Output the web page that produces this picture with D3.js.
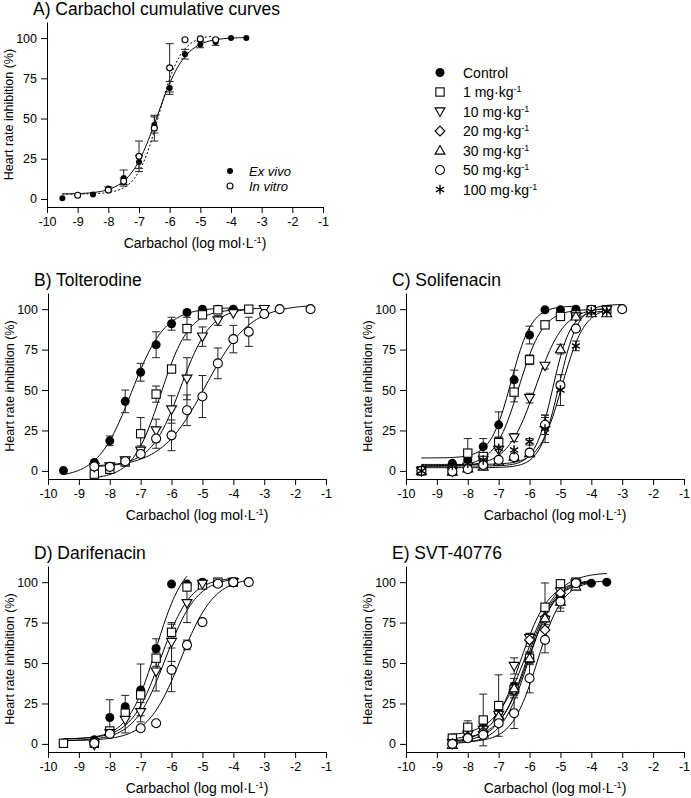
<!DOCTYPE html>
<html lang="en">
<head>
<meta charset="UTF-8" />
<title>Carbachol heart rate inhibition</title>
<script src="https://d3js.org/d3.v7.min.js"></script>
<style>
  body { margin: 0; background: #fff; }
  svg { display: block; font-family: "Liberation Sans", Arial, sans-serif; }
  .axis path, .axis line { stroke: #000; stroke-width: 1px; }
  .axis text { font-size: 12.5px; fill: #000; font-family: "Liberation Sans", Arial, sans-serif; }
  .title { font-size: 17.5px; }
  .xlab { font-size: 14px; }
  .ylab { font-size: 12.5px; }
  .leg { font-size: 14px; }
  .fit { fill: none; stroke: #000; stroke-width: 1px; }
  .err { stroke: #222; stroke-width: 1px; }
</style>
</head>
<body>
<svg width="691" height="798"></svg>
<script>
// x values: log mol/L carbachol; each point [logC, mean %, sem]
const xTicks = [-10, -9, -8, -7, -6, -5, -4, -3, -2, -1];
const yTicks = [0, 25, 50, 75, 100];

const doseLabels = ["Control", "1 mg·kg", "10 mg·kg", "20 mg·kg", "30 mg·kg", "50 mg·kg", "100 mg·kg"];
const doseMarks  = ["dot", "square", "tdown", "diamond", "tup", "circle", "star"];

// A) carbachol alone
const aExVivo = [[-9.5,0.5,0],[-8.5,2.8,0],[-8,6.5,1],[-7.5,13,5],[-7,23,4],[-6.5,46,5],[-6,69,4],[-5.5,90,3],[-5,96,2],[-4.5,97.5,2],[-4,100,0],[-3.5,100,0]];
const aInVitro = [[-9,2.3,0],[-8,5.5,0],[-7.5,11,2],[-7,26.5,9.5],[-6.5,44,8],[-6,81.5,15],[-5.5,99,0],[-5,99.5,0],[-4.5,99,0]];
// fit params: [bottom, top, logEC50, hill, from, to]
const aFits = [[3,100.5,-6.4,0.95,-9.5,-3.5],[3,102,-6.35,1.2,-9.5,-4.6]];

// B) tolterodine
const tolCtrl = [[-9.5,0.2,0],[-8.5,5.2,0],[-8,18.6,3],[-7.5,43,7],[-7,61,5.5],[-6.5,78,8],[-6,91,4],[-5.5,98,0],[-5,100,0],[-4.5,100,0],[-4,100,0]];
const tol1 = [[-8.5,-2,0],[-8,1,0],[-7.5,5.5,1.5],[-7,23,10],[-6.5,47.5,5],[-6,63,2],[-5.5,88,7],[-5,96.5,0],[-4.5,99.6,0],[-3.5,100,0]];
const tol10 = [[-8.5,2.5,0],[-8,2.8,0],[-7.5,6.5,0],[-7,12.5,3],[-6.5,25,7],[-6,38,8.5],[-5.5,57,13],[-5,83,6],[-4.5,93,3],[-4,97.5,0],[-3,100,0]];
const tol50 = [[-8.5,2.7,0],[-8,2.5,0],[-7.5,6,0],[-7,10.5,2],[-6.5,20,6],[-6,22,9.5],[-5.5,37.5,9.5],[-5,46,13],[-4.5,66.5,9.5],[-4,81.5,8.5],[-3.5,86,9],[-3,97,0],[-2.5,100,0],[-1.5,100,0]];
const tolFits = [[-4,101,-7.3,0.8,-9.5,-4],[-5,100,-6.35,0.95,-8.5,-3.5],[3,101,-5.7,0.9,-8.5,-3],[2,103,-4.9,0.6,-8.5,-1.5]];

// C) solifenacin
const solCtrl = [[-9.5,0,0],[-8.5,4.7,0],[-8,6.8,0],[-7.5,15,5],[-7,28.5,8],[-6.5,56.3,6],[-6,84,5.5],[-5.5,99.6,0],[-5,99.6,0],[-4.5,100,0]];
const sol1 = [[-9.5,0,0],[-8.5,1,0],[-8,11,9],[-7.5,8.9,0],[-7,17.5,3.5],[-6.5,48.7,6],[-6,68.7,3],[-5.5,90.3,0],[-5,95.5,0],[-4.5,96.5,0],[-4,99.6,0],[-3.5,99.6,0]];
const sol10 = [[-9.5,0,0],[-8.5,-0.4,0],[-8,2.7,0],[-7.5,6.8,0],[-7,13,0],[-6.5,20.6,2.5],[-6,45,3],[-5.5,65,2],[-4.5,95.5,0],[-3.5,99.6,0]];
const sol30 = [[-9.5,0,0],[-8.5,-0.4,0],[-8,1.6,0],[-7.5,2.7,2],[-7,5.8,0],[-6.5,8.9,0],[-6,11,2],[-5.5,29.5,3.5],[-5,75.3,3],[-4.5,95.5,0],[-4,97.5,0],[-3.5,97.5,0]];
const sol50 = [[-9.5,0,0],[-8.5,-0.4,0],[-8,1,0],[-7.5,3.7,0],[-7,6.8,0],[-6.5,8.5,0],[-6,11.3,0],[-5.5,28.5,6],[-5,53,0],[-4.5,88,0],[-4,99.6,0],[-3,100,0]];
const sol100 = [[-9.5,0,0],[-8.5,3.7,0],[-8,4.7,0],[-7.5,6.8,0],[-7,14,0],[-6.5,13,0],[-6,18,2],[-5.5,26,8.5],[-5,50,9.5],[-4.5,77.3,3],[-4,98.6,0],[-3.5,98.6,0]];
const solFits = [[8,102,-6.6,1.3,-9.5,-4.5],[3,100,-6.35,1.1,-9.5,-3.5],[3,101,-5.8,0.95,-9.5,-3.5],[3,99,-5.25,1.5,-9.5,-3.5],[2,103,-5.05,1.4,-9.5,-3],[4,101,-4.95,1.2,-9.5,-3.5]];

// D) darifenacin
const darCtrl = [[-9.5,0.4,0],[-8.5,2.5,0],[-8,16.3,11],[-7.5,23,7],[-7,33.4,16],[-6.5,59,6],[-6,98.8,0],[-5.5,98.8,0],[-5,100,0]];
const dar1 = [[-9.5,0.4,0],[-8.5,0.4,0],[-8,8,0],[-7.5,19,0],[-7,30.3,0],[-6.5,53,5],[-6,69,5],[-5.5,97,0],[-5,98.3,0],[-4.5,100,0],[-4,100,0]];
const dar10 = [[-8.5,-0.6,0],[-8,6.6,0],[-7.5,14.8,8],[-7,19.6,6],[-6.5,44.7,12],[-6,63,12],[-5.5,87,12],[-5,99,0],[-4,100,0]];
const dar50 = [[-8.5,0.4,0],[-8,6.2,0],[-7,9.7,0],[-6.5,12.8,0],[-6,45.8,13.5],[-5.5,61.2,3],[-5,75.3,0],[-4.5,99,0],[-4,100,0],[-3.5,100,0]];
const darFits = [[3,115,-6.5,0.95,-9.5,-5.5],[3,103,-6.35,0.9,-9.5,-4],[2,103,-6.2,0.85,-9.5,-4],[2,103,-5.7,0.8,-9.5,-3.5]];

// E) SVT-40776
const svtCtrl = [[-8.5,3.5,2.5],[-8,7,3],[-7.5,10.3,0],[-7,19.4,3],[-6.5,35.5,5],[-6,53.6,3],[-5.5,77.7,4],[-5,91,3],[-4.5,100,0],[-4,99.4,0],[-3.5,100,0]];
const svt1 = [[-8.5,3.5,2],[-8,10.3,4],[-7.5,14.8,16],[-7,23.7,19],[-6.5,33.8,4],[-6,53,4],[-5.5,84.5,15],[-5,99,0],[-4.5,100,0]];
const svt10 = [[-8.5,0.4,0],[-8,5.6,0],[-7.5,8.7,0],[-7,18,0],[-6.5,48.2,5],[-6,65.4,3],[-5.5,76.7,0],[-5,94.2,0],[-4.5,99,0]];
const svt20 = [[-8.5,0,0],[-8,4.5,0],[-7.5,7.5,0],[-7,15.9,0],[-6.5,33.4,0],[-6,64.3,4],[-5.5,70.5,0],[-5,93.2,0],[-4.5,99,0]];
const svt30 = [[-8.5,-0.6,0],[-8,4.5,0],[-7.5,6.6,0],[-7,17,0],[-6.5,34.4,0],[-6,53,0],[-5.5,77.7,0],[-5,88,6],[-4.5,97.3,0]];
const svt50 = [[-8.5,0,0],[-8,3.5,0],[-7.5,5.6,0],[-7,12.8,0],[-6.5,19,9.5],[-6,40.6,9],[-5.5,64.3,8],[-5,88,4],[-4.5,99.4,0]];
const svtFits = [[3,101,-6.05,0.95,-8.5,-3.5],[5,106,-6.1,0.85,-8.5,-3.5],[1,101,-6.3,0.95,-8.5,-4],[1,102,-6.1,0.95,-8.5,-4],[0,101,-6.05,1,-8.5,-4],[1,101,-5.75,1.05,-8.5,-4]];

const svg = d3.select("svg");

const panels = [
  {title: "A) Carbachol cumulative curves", box: [47, 323, 207, 22], r: 3,
   series: [aExVivo, aInVitro], marks: ["dot", "circle"], fits: aFits, dash: [null, "2,2"]},
  {title: "B) Tolterodine", box: [48, 326, 479, 293], r: 4.5,
   series: [tolCtrl, tol1, tol10, tol50], marks: ["dot", "square", "tdown", "circle"], fits: tolFits},
  {title: "C) Solifenacin", box: [406, 684, 479, 293], r: 4.5,
   series: [solCtrl, sol1, sol10, sol30, sol50, sol100], marks: ["dot", "square", "tdown", "tup", "circle", "star"], fits: solFits},
  {title: "D) Darifenacin", box: [48, 326, 752, 566], r: 4.5,
   series: [darCtrl, dar1, dar10, dar50], marks: ["dot", "square", "tdown", "circle"], fits: darFits},
  {title: "E) SVT-40776", box: [406, 684, 752, 566], r: 4.5,
   series: [svtCtrl, svt1, svt10, svt20, svt30, svt50], marks: ["dot", "square", "tdown", "diamond", "tup", "circle"], fits: svtFits}
];

function marker(g, type, r) {
  const s = "#000";
  if (type === "dot") g.append("circle").attr("r", r).attr("fill", s);
  else if (type === "circle") g.append("circle").attr("r", r).attr("fill", "#fff").attr("stroke", s).attr("stroke-width", 1.1);
  else if (type === "square") g.append("rect").attr("x", -r * 0.92).attr("y", -r * 0.92).attr("width", r * 1.84).attr("height", r * 1.84)
    .attr("fill", "#fff").attr("stroke", s).attr("stroke-width", 1.1);
  else if (type === "tdown") g.append("path").attr("d", `M${-r * 1.1},${-r * 0.8}L${r * 1.1},${-r * 0.8}L0,${r * 1.1}Z`)
    .attr("fill", "#fff").attr("stroke", s).attr("stroke-width", 1.1);
  else if (type === "tup") g.append("path").attr("d", `M${-r * 1.1},${r * 0.8}L${r * 1.1},${r * 0.8}L0,${-r * 1.1}Z`)
    .attr("fill", "#fff").attr("stroke", s).attr("stroke-width", 1.1);
  else if (type === "diamond") g.append("path").attr("d", `M0,${-r * 1.1}L${r * 1.1},0L0,${r * 1.1}L${-r * 1.1},0Z`)
    .attr("fill", "#fff").attr("stroke", s).attr("stroke-width", 1.1);
  else if (type === "star") {
    const a = r * 1.05, c = Math.cos(Math.PI / 6) * a, sn = Math.sin(Math.PI / 6) * a;
    g.append("path").attr("d", `M0,${-a}V${a}M${-c},${-sn}L${c},${sn}M${-c},${sn}L${c},${-sn}`)
      .attr("stroke", s).attr("stroke-width", 1.4).attr("fill", "none");
  }
}

const hill = (p, v) => p[0] + (p[1] - p[0]) / (1 + Math.pow(10, (p[2] - v) * p[3]));

panels.forEach(p => {
  const [l, rgt, b, t] = p.box;
  const x = d3.scaleLinear().domain([-10, -1]).range([l, rgt]);
  const y = d3.scaleLinear().domain([-5, 110]).range([b, t]);
  const g = svg.append("g");

  g.append("text").attr("class", "title").attr("x", l - 14).attr("y", t - 7).text(p.title);

  g.append("g").attr("class", "axis").attr("transform", `translate(0,${b})`)
    .call(d3.axisBottom(x).tickValues(xTicks).tickFormat(d3.format("d")).tickSize(6).tickSizeOuter(0).tickPadding(4))
    .call(a => a.selectAll("text").text(d => d < 0 ? "-" + Math.abs(d) : d));
  g.append("g").attr("class", "axis").attr("transform", `translate(${l},0)`)
    .call(d3.axisLeft(y).tickValues(yTicks).tickSize(6).tickSizeOuter(0).tickPadding(4));

  const xl = g.append("text").attr("class", "xlab").attr("text-anchor", "middle")
    .attr("x", (l + rgt) / 2 + 10).attr("y", b + 41);
  xl.append("tspan").text("Carbachol (log mol·L");
  xl.append("tspan").attr("dy", -5).attr("font-size", "9px").text("-1");
  xl.append("tspan").attr("dy", 5).text(")");

  g.append("text").attr("class", "ylab").attr("text-anchor", "middle")
    .attr("transform", `translate(${l - 34},${(b + t) / 2}) rotate(-90)`)
    .text("Heart rate inhibition (%)");

  const line = d3.line().x(d => x(d[0])).y(d => y(d[1]));
  p.fits.forEach((f, i) => {
    const xs = d3.range(f[4], f[5] + 1e-6, 0.05);
    g.append("path").attr("class", "fit")
      .attr("stroke-dasharray", p.dash ? p.dash[i] : null)
      .attr("d", line(xs.map(v => [v, hill(f, v)])));
  });

  p.series.forEach(s => {
    s.filter(d => d[2] > 0).forEach(d => {
      const cx = x(d[0]), y1 = y(d[1] - d[2]), y2 = y(d[1] + d[2]);
      g.append("line").attr("class", "err").attr("x1", cx).attr("x2", cx).attr("y1", y1).attr("y2", y2);
      g.append("line").attr("class", "err").attr("x1", cx - 4).attr("x2", cx + 4).attr("y1", y1).attr("y2", y1);
      g.append("line").attr("class", "err").attr("x1", cx - 4).attr("x2", cx + 4).attr("y1", y2).attr("y2", y2);
    });
  });
  p.series.forEach((s, i) => {
    s.forEach(d => {
      const m = g.append("g").attr("transform", `translate(${x(d[0])},${y(d[1])})`);
      marker(m, p.marks[i], p.r);
    });
  });

  if (p.title.startsWith("A)")) {
    ["Ex vivo", "In vitro"].forEach((txt, i) => {
      const yy = 171 + i * 15;
      const m = g.append("g").attr("transform", `translate(230,${yy})`);
      marker(m, p.marks[i], 3);
      g.append("text").attr("font-style", "italic").attr("font-size", "13px")
        .attr("x", 249).attr("y", yy + 4.5).text(txt);
    });
  }
});

// dose legend
const leg = svg.append("g");
doseLabels.forEach((lab, i) => {
  const yy = 72.5 + i * 19.5;
  const m = leg.append("g").attr("transform", `translate(440,${yy})`);
  marker(m, doseMarks[i], 4.5);
  const t = leg.append("text").attr("class", "leg").attr("x", 463).attr("y", yy + 5).text(lab);
  if (i > 0) t.append("tspan").attr("dy", -5).attr("font-size", "9px").text("-1");
});
</script>
</body>
</html>
